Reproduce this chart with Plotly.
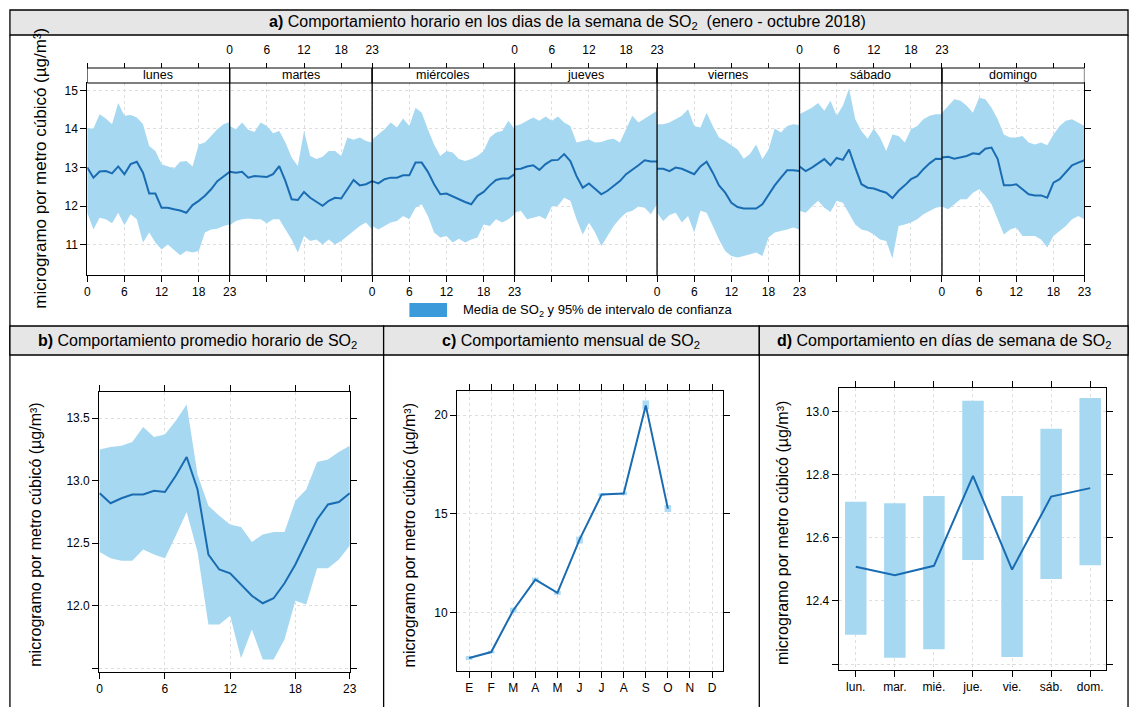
import plotly.graph_objects as go

W, H = 1138, 707
FONT = "Liberation Sans, Arial, sans-serif"
LINE = "#1a6cb2"
BAND = "#a6d8f2"
LEG = "#3b9ad9"
GRID = "#dedede"
TITLEBG = "#e6e6e6"

# ---------------- data: panel a (hourly by weekday) ----------------
dias = ["lunes", "martes", "miércoles", "jueves", "viernes", "sábado", "domingo"]
horas = list(range(24))

lunes_media = [13.0, 12.74, 12.90, 12.91, 12.85, 13.03, 12.83, 13.09, 13.15, 12.87, 12.33, 12.33,
               11.96, 11.96, 11.92, 11.89, 11.83, 12.03, 12.14, 12.27, 12.44, 12.65, 12.77, 12.89]
lunes_sup = [14.01, 14.01, 14.38, 14.27, 14.12, 14.67, 14.34, 14.36, 14.30, 14.12, 13.56, 13.43,
             13.09, 13.03, 12.98, 13.15, 13.17, 13.03, 13.60, 13.65, 13.82, 13.99, 14.12, 14.18]
lunes_inf = [11.83, 11.40, 11.70, 11.66, 11.56, 11.83, 11.51, 11.79, 11.66, 11.06, 11.32, 11.06,
             10.88, 11.01, 10.88, 10.73, 10.84, 10.80, 10.84, 11.32, 11.40, 11.42, 11.49, 11.53]

martes_media = [12.89, 12.87, 12.89, 12.74, 12.78, 12.77, 12.76, 12.83, 13.04, 12.65, 12.18, 12.16,
                12.37, 12.22, 12.11, 12.01, 12.14, 12.22, 12.20, 12.44, 12.68, 12.54, 12.57, 12.65]
martes_sup = [14.08, 13.99, 14.17, 13.98, 13.92, 14.17, 14.08, 13.89, 13.95, 13.65, 13.26, 13.04,
              13.95, 13.30, 13.22, 13.28, 13.43, 13.43, 13.30, 13.78, 13.72, 13.78, 13.69, 13.65]
martes_inf = [11.51, 11.62, 11.66, 11.68, 11.66, 11.66, 11.56, 11.66, 11.66, 11.40, 11.14, 10.80,
              11.23, 11.10, 11.14, 11.01, 11.14, 11.01, 11.10, 11.23, 11.36, 11.49, 11.58, 11.40]

miercoles_media = [12.65, 12.59, 12.70, 12.74, 12.74, 12.80, 12.80, 13.13, 13.13, 12.89, 12.57, 12.31,
                   12.33, 12.25, 12.18, 12.11, 12.05, 12.27, 12.37, 12.54, 12.68, 12.72, 12.72, 12.83]
miercoles_sup = [13.73, 13.86, 13.99, 14.17, 14.04, 14.27, 14.08, 14.55, 14.42, 13.99, 13.60, 13.30,
                 13.43, 13.39, 13.22, 13.17, 13.22, 13.30, 13.43, 13.78, 13.91, 13.95, 14.21, 13.99]
miercoles_inf = [11.49, 11.40, 11.49, 11.58, 11.62, 11.75, 11.66, 11.96, 12.05, 11.75, 11.32, 11.19,
                 11.23, 11.06, 11.16, 11.06, 11.14, 11.19, 11.53, 11.49, 11.66, 11.58, 11.66, 11.79]

jueves_media = [12.96, 12.97, 13.03, 13.06, 12.94, 13.09, 13.19, 13.20, 13.35, 13.17, 12.78, 12.48,
                12.59, 12.46, 12.31, 12.40, 12.53, 12.65, 12.83, 12.94, 13.06, 13.19, 13.16, 13.16]
jueves_sup = [14.08, 14.12, 14.21, 14.30, 14.21, 14.32, 14.21, 14.32, 14.17, 14.08, 13.65, 13.69,
              13.73, 13.65, 13.66, 13.72, 13.75, 13.65, 13.99, 14.34, 14.17, 14.27, 14.38, 14.47]
jueves_inf = [11.83, 11.88, 11.66, 11.70, 11.75, 11.66, 11.99, 12.01, 12.22, 12.14, 11.66, 11.27,
              11.58, 11.32, 10.97, 11.23, 11.49, 11.68, 11.83, 11.88, 11.99, 11.96, 11.79, 12.05]

viernes_media = [12.97, 12.97, 12.91, 13.0, 12.97, 12.89, 12.83, 13.03, 13.15, 12.87, 12.54, 12.35,
                 12.09, 11.98, 11.94, 11.94, 11.94, 12.05, 12.31, 12.54, 12.74, 12.93, 12.93, 12.91]
viernes_sup = [14.12, 14.12, 14.17, 14.25, 14.34, 14.51, 14.08, 14.04, 14.42, 14.08, 13.78, 13.69,
               13.58, 13.47, 13.23, 13.35, 13.60, 13.22, 13.47, 14.01, 13.91, 14.08, 14.12, 14.10]
viernes_inf = [11.83, 11.62, 11.77, 11.83, 11.58, 11.75, 11.32, 11.88, 11.83, 11.49, 11.14, 10.84,
               10.71, 10.67, 10.71, 10.75, 10.80, 10.71, 11.19, 11.32, 11.36, 11.40, 11.45, 11.40]

sabado_media = [13.03, 12.91, 13.0, 13.11, 13.22, 13.06, 13.25, 13.20, 13.47, 13.0, 12.57, 12.48,
                12.46, 12.40, 12.35, 12.21, 12.40, 12.54, 12.70, 12.78, 12.96, 13.11, 13.23, 13.22]
sabado_sup = [14.38, 14.47, 14.55, 14.67, 14.47, 14.73, 14.34, 14.60, 15.05, 14.25, 13.95, 13.75,
              14.01, 13.78, 13.43, 13.86, 13.82, 13.65, 13.99, 14.08, 14.25, 14.34, 14.38, 14.38]
sabado_inf = [11.88, 11.83, 11.99, 12.14, 11.96, 11.85, 12.14, 12.09, 11.83, 11.53, 11.40, 11.36,
              11.27, 11.14, 11.10, 10.65, 11.49, 11.53, 11.58, 11.66, 11.79, 11.88, 11.96, 11.99]

domingo_media = [13.26, 13.28, 13.23, 13.26, 13.30, 13.37, 13.35, 13.49, 13.52, 13.22, 12.54, 12.54,
                 12.57, 12.44, 12.31, 12.28, 12.28, 12.22, 12.61, 12.70, 12.87, 13.06, 13.13, 13.19]
domingo_sup = [14.42, 14.60, 14.77, 14.73, 14.60, 14.42, 14.81, 14.77, 14.55, 14.25, 13.86, 13.78,
               13.78, 13.82, 13.65, 13.60, 13.65, 13.58, 13.86, 14.08, 14.21, 14.25, 14.17, 14.08]
domingo_inf = [11.99, 11.92, 12.05, 12.18, 12.18, 12.35, 12.44, 12.27, 12.05, 11.66, 11.27, 11.40,
               11.45, 11.23, 11.23, 11.23, 11.14, 10.93, 11.23, 11.36, 11.49, 11.66, 11.75, 11.66]

# ---------------- data: panel b (hourly mean) ----------------
hora_media = [12.90, 12.82, 12.86, 12.89, 12.89, 12.92, 12.91, 13.04, 13.19, 12.93, 12.41, 12.29,
              12.26, 12.17, 12.08, 12.02, 12.06, 12.18, 12.33, 12.51, 12.69, 12.81, 12.83, 12.90]
hora_sup = [13.25, 13.27, 13.28, 13.31, 13.43, 13.35, 13.37, 13.48, 13.61, 13.05, 12.80, 12.72,
            12.65, 12.63, 12.51, 12.57, 12.59, 12.59, 12.84, 12.93, 13.15, 13.17, 13.23, 13.28]
hora_inf = [12.43, 12.38, 12.36, 12.36, 12.45, 12.41, 12.38, 12.56, 12.75, 12.43, 11.85, 11.85,
            11.92, 11.58, 11.81, 11.57, 11.57, 11.73, 12.04, 12.01, 12.30, 12.30, 12.37, 12.48]

# ---------------- data: panel c (monthly) ----------------
meses = ["E", "F", "M", "A", "M", "J", "J", "A", "S", "O", "N", "D"]
mes_media = [7.70, 8.0, 10.12, 11.67, 11.0, 13.7, 15.98, 16.03, 20.5, 15.27]
mes_inf = [7.60, 7.93, 10.0, 11.57, 10.9, 13.5, 15.9, 15.95, 20.3, 15.1]
mes_sup = [7.80, 8.07, 10.25, 11.77, 11.1, 13.85, 16.05, 16.12, 20.75, 15.45]

# ---------------- data: panel d (weekday) ----------------
dias_cortos = ["lun.", "mar.", "mié.", "jue.", "vie.", "sáb.", "dom."]
dia_media = [12.508, 12.481, 12.511, 12.796, 12.499, 12.730, 12.757]
dia_inf = [12.293, 12.220, 12.247, 12.529, 12.222, 12.469, 12.513]
dia_sup = [12.714, 12.709, 12.732, 13.034, 12.732, 12.945, 13.042]

medias = [lunes_media, martes_media, miercoles_media, jueves_media, viernes_media, sabado_media, domingo_media]
sups = [lunes_sup, martes_sup, miercoles_sup, jueves_sup, viernes_sup, sabado_sup, domingo_sup]
infs = [lunes_inf, martes_inf, miercoles_inf, jueves_inf, viernes_inf, sabado_inf, domingo_inf]


def X(px):
    return px / W


def Y(py):
    return 1 - py / H


fig = go.Figure()

# ---- panel a traces ----
for d in range(7):
    xs = [d * 23 + h for h in horas]
    fig.add_trace(go.Scatter(x=xs + xs[::-1], y=sups[d] + infs[d][::-1], fill="toself",
                             fillcolor=BAND, line=dict(width=0), mode="lines",
                             hoverinfo="skip", showlegend=False, xaxis="x", yaxis="y"))
for d in range(7):
    xs = [d * 23 + h for h in horas]
    fig.add_trace(go.Scatter(x=xs, y=medias[d], mode="lines", line=dict(color=LINE, width=2),
                             showlegend=False, xaxis="x", yaxis="y"))
# dummy for top axis
fig.add_trace(go.Scatter(x=[0, 161], y=[None, None], mode="lines", showlegend=False,
                         xaxis="x2", yaxis="y"))

# ---- panel b ----
fig.add_trace(go.Scatter(x=horas + horas[::-1], y=hora_sup + hora_inf[::-1], fill="toself",
                         fillcolor=BAND, line=dict(width=0), mode="lines", showlegend=False,
                         xaxis="x3", yaxis="y3"))
fig.add_trace(go.Scatter(x=horas, y=hora_media, mode="lines", line=dict(color=LINE, width=2),
                         showlegend=False, xaxis="x3", yaxis="y3"))

# ---- panel c ----
mx = list(range(1, len(mes_media) + 1))
fig.add_trace(go.Bar(x=mx, base=mes_inf, y=[s - i for s, i in zip(mes_sup, mes_inf)], width=0.3,
                     marker=dict(color=BAND, line=dict(width=0)), opacity=0.9, showlegend=False,
                     xaxis="x4", yaxis="y4"))
fig.add_trace(go.Scatter(x=mx, y=mes_media, mode="lines", line=dict(color=LINE, width=2),
                         showlegend=False, xaxis="x4", yaxis="y4"))

# ---- panel d ----
dx = list(range(1, 8))
fig.add_trace(go.Bar(x=dx, base=dia_inf, y=[s - i for s, i in zip(dia_sup, dia_inf)], width=0.55,
                     marker=dict(color=BAND, line=dict(width=0)), showlegend=False,
                     xaxis="x5", yaxis="y5"))
fig.add_trace(go.Scatter(x=dx, y=dia_media, mode="lines", line=dict(color=LINE, width=2),
                         showlegend=False, xaxis="x5", yaxis="y5"))


def ticks(label_days):
    vals, txt = [], []
    for d in range(7):
        for h in [0, 6, 12, 18, 23]:
            x = d * 23 + h
            lab = str(h) if d in label_days else ""
            if x in vals:
                i = vals.index(x)
                if lab:
                    txt[i] = lab
            else:
                vals.append(x)
                txt.append(lab)
    return vals, txt


bot_v, bot_t = ticks({0, 2, 4, 6})
top_v, top_t = ticks({1, 3, 5})

tickfont = dict(family=FONT, size=12, color="black")
common = dict(showline=True, linecolor="black", linewidth=1, ticks="outside", tickcolor="black",
              tickwidth=1, zeroline=False, showgrid=True, gridcolor=GRID, griddash="dot",
              gridwidth=1, tickfont=tickfont)

layout = dict(
    width=W, height=H, margin=dict(l=0, r=0, t=0, b=0),
    paper_bgcolor="white", plot_bgcolor="white", barmode="overlay",
    font=dict(family=FONT, color="black"),
    xaxis=dict(domain=[X(85), X(1091)], range=[0, 161], anchor="y", tickvals=bot_v, ticktext=bot_t,
               ticklen=6, mirror=True, **common),
    xaxis2=dict(overlaying="x", anchor="free", position=Y(68), side="top", range=[0, 161],
                tickvals=top_v, ticktext=top_t, ticklen=5, showline=True, linecolor="black",
                ticks="outside", tickcolor="black", showgrid=False, zeroline=False,
                tickfont=tickfont, ticklabelstandoff=4),
    yaxis=dict(domain=[Y(275), Y(83)], range=[10.22, 15.19], anchor="x", tickvals=[11, 12, 13, 14, 15],
               ticklen=6, mirror="ticks", **common),
    xaxis3=dict(domain=[X(97), X(350)], range=[-0.05, 23.02], anchor="y3", tickvals=[0, 6, 12, 18, 23],
                ticklen=6, mirror="ticks", **common),
    yaxis3=dict(domain=[Y(672), Y(392)], range=[11.47, 13.71], anchor="x3",
                tickvals=[11.5, 12.0, 12.5, 13.0, 13.5], ticktext=["", "12.0", "12.5", "13.0", "13.5"],
                ticklen=6, mirror="ticks", **common),
    xaxis4=dict(domain=[X(458), X(726)], range=[0.45, 12.48], anchor="y4", tickvals=list(range(1, 13)),
                ticktext=meses, ticklen=6, mirror="ticks", **common),
    yaxis4=dict(domain=[Y(671), Y(391)], range=[7.04, 21.23], anchor="x4", tickvals=[10, 15, 20],
                ticklen=6, mirror="ticks", **common),
    xaxis5=dict(domain=[X(843), X(1113)], range=[0.56, 7.41], anchor="y5", tickvals=dx,
                ticktext=dias_cortos, ticklen=6, mirror="ticks", **common),
    yaxis5=dict(domain=[Y(670), Y(388)], range=[12.181, 13.074], anchor="x5",
                tickvals=[12.2, 12.4, 12.6, 12.8, 13.0], ticktext=["", "12.4", "12.6", "12.8", "13.0"],
                ticklen=6, mirror="ticks", **common),
)

shapes = []
ann = []
BL = dict(color="black", width=1.3)


def rect_px(x0, y0, x1, y1, fill=None, line=BL):
    shapes.append(dict(type="rect", xref="paper", yref="paper", x0=X(x0), x1=X(x1), y0=Y(y1), y1=Y(y0),
                       fillcolor=fill if fill else "rgba(0,0,0,0)", line=line, layer="above"))


def line_px(x0, y0, x1, y1, line=BL):
    shapes.append(dict(type="line", xref="paper", yref="paper", x0=X(x0), x1=X(x1), y0=Y(y0), y1=Y(y1),
                       line=line, layer="above"))


# frames
rect_px(7, 10, 1135, 35, fill=TITLEBG)
line_px(7, 35, 7, 707)
line_px(1135, 35, 1135, 707)
rect_px(7, 326, 384, 355, fill=TITLEBG)
rect_px(384, 326, 763, 355, fill=TITLEBG)
rect_px(763, 326, 1135, 355, fill=TITLEBG)
line_px(384, 355, 384, 707)
line_px(763, 355, 763, 707)

# strips and dividers in panel a
for d in range(7):
    shapes.append(dict(type="rect", xref="x", yref="paper", x0=d * 23, x1=(d + 1) * 23,
                       y0=Y(83), y1=Y(68), fillcolor="white", line=dict(color="black", width=1),
                       layer="above"))
    ann.append(dict(x=d * 23 + 11.5, xref="x", y=Y(75.5), yref="paper", text=dias[d], showarrow=False,
                    font=dict(family=FONT, size=12.5, color="black"), xanchor="center", yanchor="middle"))
for d in range(1, 7):
    shapes.append(dict(type="line", xref="x", yref="paper", x0=d * 23, x1=d * 23, y0=Y(275), y1=Y(68),
                       line=dict(color="black", width=1.3), layer="above"))

# legend
rect_px(410, 303, 448, 317, fill=LEG, line=dict(width=0))
ann.append(dict(x=X(462), y=Y(310), xref="paper", yref="paper", xanchor="left", yanchor="middle",
                text="Media de SO<sub>2</sub> y 95% de intervalo de confianza", showarrow=False,
                font=dict(family=FONT, size=13, color="black")))

# titles
tf = dict(family=FONT, size=16, color="black")
for (tx, ty, txt) in [
    (569, 22.5, "<b>a)</b> Comportamiento horario en los dias de la semana de SO<sub>2</sub>  (enero - octubre 2018)"),
    (196, 341, "<b>b)</b> Comportamiento promedio horario de SO<sub>2</sub>"),
    (573, 341, "<b>c)</b> Comportamiento mensual de SO<sub>2</sub>"),
    (949, 341, "<b>d)</b> Comportamiento en días de semana de SO<sub>2</sub>"),
]:
    ann.append(dict(x=X(tx), y=Y(ty), xref="paper", yref="paper", showarrow=False, font=tf, text=txt,
                    xanchor="center", yanchor="middle"))

ylab = "microgramo por metro cúbicó (µg/m³)"
for (lx, ly, sz) in [(37, 168, 17), (32, 535, 16), (410, 535, 16), (786, 533, 16)]:
    ann.append(dict(x=X(lx), y=Y(ly), xref="paper", yref="paper", showarrow=False, textangle=-90,
                    text=ylab, font=dict(family=FONT, size=sz, color="black"),
                    xanchor="center", yanchor="middle"))

layout["shapes"] = shapes
layout["annotations"] = ann
fig.update_layout(**layout)
fig.write_html("out.html", config={"displayModeBar": False},
               post_script="document.body.style.margin='0px';document.body.style.overflow='hidden';")
